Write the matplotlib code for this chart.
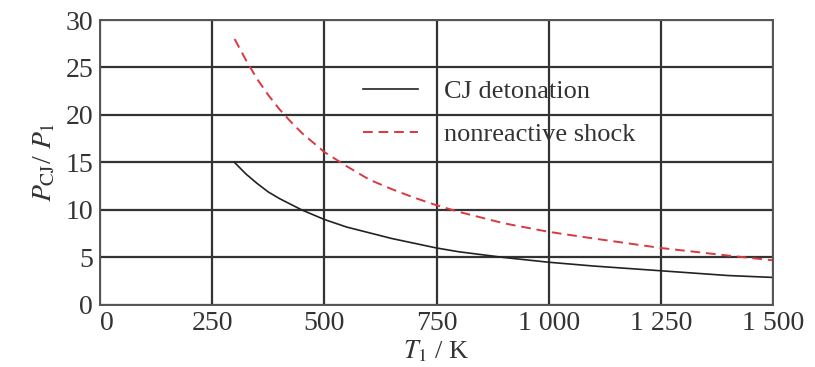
import matplotlib.pyplot as plt
import numpy as np

T1 = [300, 325, 350, 375, 400, 425, 450, 500, 550, 600, 650, 700, 750, 800, 900, 1000, 1100, 1250, 1400, 1500]
cj = [15.0, 13.8, 12.8, 11.9, 11.2, 10.6, 10.0, 9.0, 8.2, 7.6, 7.0, 6.5, 6.0, 5.6, 5.0, 4.5, 4.1, 3.6, 3.1, 2.9]
shock = [28.0, 25.8, 23.8, 22.1, 20.6, 19.3, 18.1, 16.1, 14.6, 13.2, 12.2, 11.3, 10.5, 9.8, 8.6, 7.7, 7.0, 6.0, 5.2, 4.7]

xticks = [0, 250, 500, 750, 1000, 1250, 1500]
xticklabels = ["0", "250", "500", "750", "1 000", "1 250", "1 500"]
yticks = [0, 5, 10, 15, 20, 25, 30]

plt.rcParams['font.family'] = ['Liberation Serif', 'DejaVu Serif']
plt.rcParams['mathtext.fontset'] = 'stix'

fig = plt.figure(figsize=(8.15, 3.67), dpi=100)
ax = fig.add_axes([0.1227, 0.169, 0.8258, 0.7765])

ax.plot(T1, cj, color='#222222', lw=1.2, label='CJ detonation')
ax.plot(T1, shock, color='#d9393f', lw=1.4, ls=(0, (5, 3)), label='nonreactive shock')

ax.set_xlim(0, 1500)
ax.set_ylim(0, 30)
ax.set_xticks(xticks)
ax.set_xticklabels(xticklabels)
ax.set_yticks(yticks)
ax.tick_params(length=0, labelsize=20, colors='#333333')
ax.tick_params(axis='y', pad=5)
ax.tick_params(axis='x', pad=4)
for lab in ax.get_xticklabels()[:1]:
    lab.set_horizontalalignment('left')
ax.grid(True, color='#333333', lw=1.6)
ax.set_axisbelow(True)
for s in ax.spines.values():
    s.set_color('#555555')
    s.set_linewidth(1.4)

ax.set_xlabel(r'$T_1$ / K', fontsize=19, labelpad=2, color='#333333')
ax.set_ylabel(r'$P_{\mathrm{CJ}}$/ $P_1$', fontsize=20, labelpad=6, color='#333333')

leg = ax.legend(loc='upper left', bbox_to_anchor=(0.355, 0.875), frameon=False,
                fontsize=19, handlelength=2.1, handletextpad=1.0, labelspacing=0.75)
for t in leg.get_texts():
    t.set_color('#333333')

fig.savefig('out.png', dpi=100)
